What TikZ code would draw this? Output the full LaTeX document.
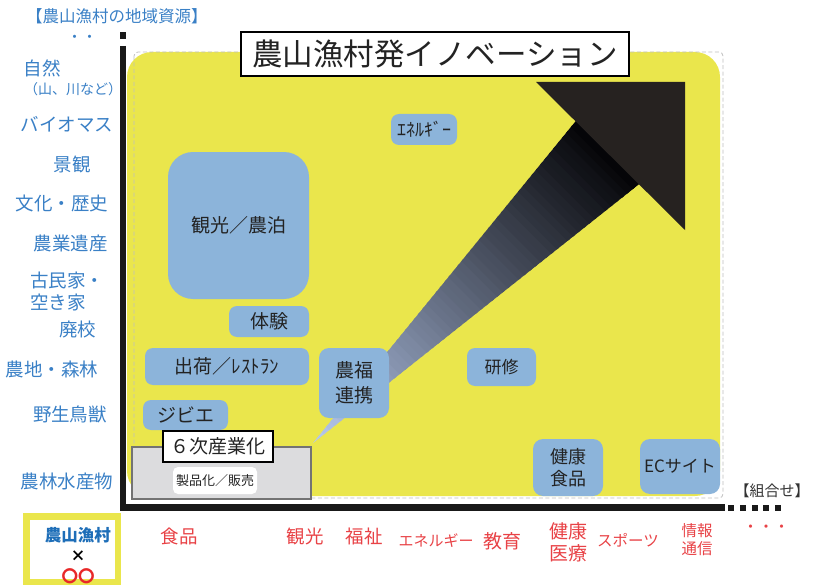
\documentclass[tikz,border=0pt]{standalone}
\usepackage{fontspec}
\setmainfont{Noto Sans CJK JP}
\usetikzlibrary{calc}
\definecolor{resblue}{RGB}{58,128,198}
\definecolor{catred}{RGB}{232,66,70}
\definecolor{yel}{RGB}{234,230,76}
\definecolor{boxblue}{RGB}{140,180,218}
\definecolor{txt}{RGB}{35,35,35}
\definecolor{bandlight}{RGB}{182,200,236}
\definecolor{banddark}{RGB}{5,5,8}
\definecolor{arrowdark}{RGB}{38,34,32}
\definecolor{grayfill}{RGB}{220,220,222}
\definecolor{nsblue}{RGB}{30,110,184}
\definecolor{circred}{RGB}{232,40,40}
\tikzset{
  res/.style={text=resblue, inner sep=0pt, font=\fontsize{18.5}{20}\selectfont},
  cat/.style={text=catred, inner sep=0pt, align=center},
  bbox/.style={fill=boxblue, rounded corners=8pt, inner sep=0pt, text=txt, align=center, font=\fontsize{19}{25}\selectfont},
}
\begin{document}
\begin{tikzpicture}[x=1pt,y=-1pt]
\useasboundingbox (0,0) rectangle (815,586);
% yellow field
\fill[yel, rounded corners=25pt] (127,52) rectangle (720,496);
\draw[gray!50, dash pattern=on 4pt off 2.5pt, line width=0.8pt, rounded corners=4pt] (134,52) rectangle (723,498);
% axes
\draw[line width=6.5pt, black!90, line join=miter] (123,46) -- (123,507.5) -- (725,507.5);
\fill[black!90] (120,32) rectangle (126,39);
\foreach \x in {728,740,752,763,775} \fill[black!90] (\x,504.5) rectangle ++(5.5,6);
% title
\node[draw, line width=1.2pt, fill=white, minimum width=388pt, minimum height=44pt, inner sep=0pt, text=txt, font=\fontsize{30.5}{32}\selectfont] (title) at (435,54) {農山漁村発イノベーション};
% band with gradient
\coordinate (tip) at (313,443);
\coordinate (ue) at (575,122);
\coordinate (le) at (638,185);
\foreach \i in {0,...,59}{
  \pgfmathsetmacro\ta{\i/60}
  \pgfmathsetmacro\tb{(\i+1.4)/60}
  \pgfmathtruncatemacro\p{100*\i/59}
  \fill[banddark!\p!bandlight] ($(tip)!\ta!(ue)$) -- ($(tip)!\tb!(ue)$) -- ($(tip)!\tb!(le)$) -- ($(tip)!\ta!(le)$) -- cycle;
}
\coordinate (h1) at (536,82);
\coordinate (h2) at (685,82);
\coordinate (h3) at (685,230);
\fill[arrowdark] (h1) -- (h2) -- (h3) -- cycle;
% blue boxes
\node[bbox, minimum width=66pt, minimum height=31pt, font=\fontsize{18}{20}\selectfont] (energy) at (424,129.5) {ｴﾈﾙｷﾞｰ};
\node[bbox, rounded corners=25pt, minimum width=141pt, minimum height=147pt] (kanko) at (238.5,225.5) {観光／農泊};
\node[bbox, minimum width=80pt, minimum height=31pt] (taiken) at (269,321.5) {体験};
\node[bbox, minimum width=164pt, minimum height=37pt] (shukka) at (227,366.5) {出荷／ﾚｽﾄﾗﾝ};
\node[bbox, minimum width=85pt, minimum height=30pt] (jibie) at (185.5,415) {ジビエ};
\node[bbox, rounded corners=10pt, minimum width=70pt, minimum height=70pt] (noufuku) at (354,383) {農福\\連携};
\node[bbox, minimum width=69pt, minimum height=38pt, font=\fontsize{17}{20}\selectfont] (kenshu) at (501.5,367) {研修};
\node[bbox, rounded corners=10pt, minimum width=70pt, minimum height=57pt, font=\fontsize{18}{22}\selectfont] (kenko) at (568,467.5) {健康\\食品};
\node[bbox, rounded corners=10pt, minimum width=80pt, minimum height=55pt, font=\fontsize{17}{20}\selectfont] (ec) at (680,466.5) {ECサイト};
% 6th industry
\draw[fill=grayfill, draw=black!55, line width=1.3pt] (132,447) rectangle (311,499);
\node[draw, line width=1.1pt, fill=white, minimum width=110pt, minimum height=31pt, inner sep=0pt, text=txt, font=\fontsize{19}{20}\selectfont] (six) at (218,446.5) {６次産業化};
\node[fill=white, rounded corners=5pt, minimum width=84pt, minimum height=27pt, inner sep=0pt, text=txt, font=\fontsize{13}{14}\selectfont] (seihin) at (215,480.5) {製品化／販売};
% left resources
\node[res, font=\fontsize{16.5}{18}\selectfont] (head) at (117,16) {【農山漁村の地域資源】};
\node[res, font=\fontsize{15}{16}\selectfont] (dots1) at (82,39) {・・};
\node[res] (r1) at (42,68) {自然};
\node[res, font=\fontsize{14}{15}\selectfont] (r2) at (73,89) {（山、川など）};
\node[res] (r3) at (67,124) {バイオマス};
\node[res] (r4) at (72,164) {景観};
\node[res] (r5) at (62,203) {文化・歴史};
\node[res] (r6) at (71,243) {農業遺産};
\node[res, anchor=west] (r7) at (30,280) {古民家・};
\node[res, anchor=west] (r8) at (30,302) {空き家};
\node[res] (r9) at (78,330) {廃校};
\node[res] (r10) at (52,369) {農地・森林};
\node[res] (r11) at (70,414) {野生鳥獣};
\node[res] (r12) at (67,481) {農林水産物};
% bottom categories
\node[cat, font=\fontsize{18.5}{20}\selectfont] (c1) at (179,536) {食品};
\node[cat, font=\fontsize{18.5}{20}\selectfont] (c2) at (305,536) {観光};
\node[cat, font=\fontsize{18.5}{20}\selectfont] (c3) at (364,536) {福祉};
\node[cat, font=\fontsize{15}{16}\selectfont] (c4) at (436,541) {エネルギー};
\node[cat, font=\fontsize{19}{20}\selectfont] (c5) at (502,541) {教育};
\node[cat, font=\fontsize{19}{22}\selectfont] (c6) at (568,542) {健康\\医療};
\node[cat, font=\fontsize{15.5}{16}\selectfont] (c7) at (628,540) {スポーツ};
\node[cat, font=\fontsize{15.5}{18}\selectfont] (c8) at (697,540) {情報\\通信};
\node[cat, font=\fontsize{15.5}{16}\selectfont] (c9) at (766,529) {・・・};
\node[inner sep=0pt, text=black!80, font=\fontsize{15}{16}\selectfont] (kumi) at (772,491) {【組合せ】};
% bottom-left box
\draw[yel, line width=6.5pt] (26.25,516.25) rectangle (117.75,581.75);
\node[inner sep=0pt, text=nsblue, font=\bfseries\fontsize{16.5}{18}\selectfont] (ns) at (78,535) {農山漁村};
\node[inner sep=0pt, text=black, font=\bfseries\fontsize{15}{16}\selectfont] (times) at (78,556) {×};
\node[inner sep=0pt, text=circred, font=\bfseries\fontsize{16.5}{18}\selectfont] (oo) at (78,576) {〇〇};
\end{tikzpicture}
\end{document}
